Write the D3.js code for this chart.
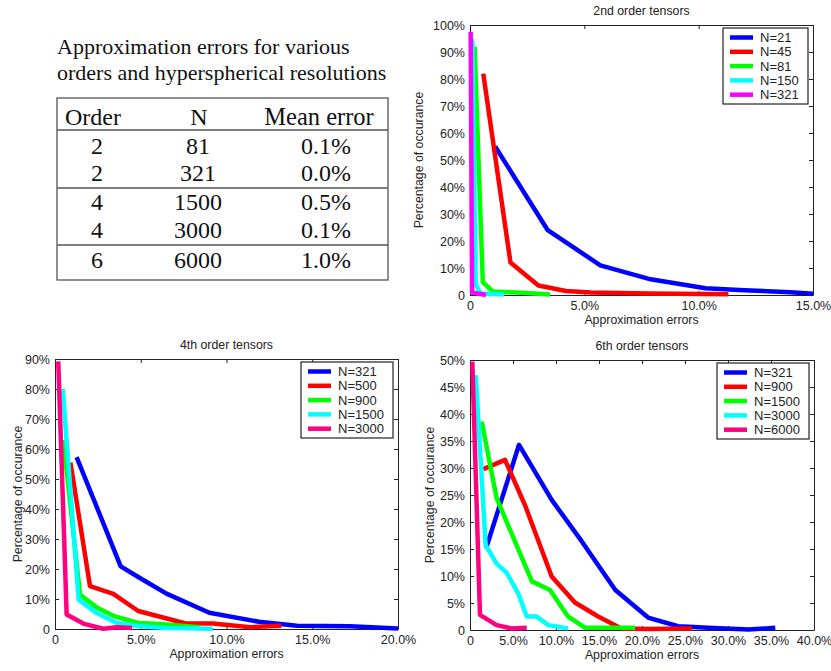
<!DOCTYPE html>
<html>
<head>
<meta charset="utf-8">
<script src="https://cdn.jsdelivr.net/npm/d3@7.9.0/dist/d3.min.js"></script>
<style>
  body { margin: 0; background: #fff; }
  svg { display: block; }
  .tbl text { font-family: "Liberation Serif", "Times New Roman", serif; fill: #111; }
  .chart text { font-family: "Liberation Sans", Arial, sans-serif; fill: #222; }
</style>
</head>
<body>
<svg width="831" height="671"></svg>
<script>
// ---- table data ----
const tableTitle = ['Approximation errors for various', 'orders and hyperspherical resolutions'];
const tableHeader = ['Order', 'N', 'Mean error'];
const tableOrder = ['2', '2', '4', '4', '6'];
const tableN = ['81', '321', '1500', '3000', '6000'];
const tableErr = ['0.1%', '0.0%', '0.5%', '0.1%', '1.0%'];

// ---- 2nd order tensors: [error %, occurrence %] ----
const o2Labels = ['N=21', 'N=45', 'N=81', 'N=150', 'N=321'];
const o2N21 = [[1.1, 55], [3.4, 24], [5.7, 11], [7.9, 5.8], [10.3, 2.5], [12, 1.8], [14, 1], [15, 0.5]];
const o2N45 = [[0.58, 82], [1.77, 12], [2.99, 3.5], [4.2, 1.5], [5.3, 0.9], [7.8, 0.6], [11.3, 0.3]];
const o2N81 = [[0.2, 92], [0.56, 4.8], [1.0, 1.3], [2.1, 0.9], [3.5, 0.2]];
const o2N150 = [[0.1, 94.7], [0.25, 4], [0.46, 0.6], [1.5, 0.2]];
const o2N321 = [[0.03, 97.5], [0.09, 0.9], [0.7, 0]];
const o2XTicks = [0, 5, 10, 15];
const o2XLabels = ['0', '5.0%', '10.0%', '15.0%'];
const o2YTicks = [0, 10, 20, 30, 40, 50, 60, 70, 80, 90, 100];
const o2YLabels = ['0', '10%', '20%', '30%', '40%', '50%', '60%', '70%', '80%', '90%', '100%'];

// ---- 4th order tensors ----
const o4Labels = ['N=321', 'N=500', 'N=900', 'N=1500', 'N=3000'];
const o4N321 = [[1.26, 57.3], [3.83, 20.9], [4.95, 17], [6.5, 11.8], [9.0, 5.4], [11.9, 2.4], [14.1, 1.1], [17.2, 0.9], [20, 0.2]];
const o4N500 = [[0.9, 55.5], [2.04, 14.3], [3.4, 11.7], [4.85, 6], [7.57, 1.9], [9.2, 1.8], [11.4, 0.6], [13.2, 1.1]];
const o4N900 = [[0.49, 63], [1.46, 11.4], [2.43, 7.2], [3.4, 4.4], [4.85, 2], [6.1, 1.7], [8.45, 0.6]];
const o4N1500 = [[0.45, 80], [1.38, 9.8], [2.43, 5.3], [3.6, 2], [4.95, 0.9], [6.5, 0.3], [9.2, 0.1]];
const o4N3000 = [[0.19, 89.2], [0.68, 4.8], [1.65, 1.8], [2.8, 0.1], [3.6, 0.6], [4.5, 0.3]];
const o4XTicks = [0, 5, 10, 15, 20];
const o4XLabels = ['0', '5.0%', '10.0%', '15.0%', '20.0%'];
const o4YTicks = [0, 10, 20, 30, 40, 50, 60, 70, 80, 90];
const o4YLabels = ['0', '10%', '20%', '30%', '40%', '50%', '60%', '70%', '80%', '90%'];

// ---- 6th order tensors ----
const o6Labels = ['N=321', 'N=900', 'N=1500', 'N=3000', 'N=6000'];
const o6N321 = [[1.86, 15.1], [5.7, 34.3], [9.5, 24.1], [13, 16.4], [16.9, 7.4], [20.7, 2.3], [24.2, 0.7], [27.7, 0.4], [32.4, 0.1], [35.5, 0.4]];
const o6N900 = [[1.55, 29.8], [4.07, 31.5], [6.4, 23.1], [9.5, 9.9], [12.2, 5.1], [14.9, 2.5], [17.6, 0.3], [20.7, 0.2], [25.8, 0.3]];
const o6N1500 = [[1.36, 38.6], [3.1, 24.4], [7.2, 9], [9.3, 7.4], [11.4, 2.5], [13.4, 0.4], [19.2, 0.4]];
const o6N3000 = [[0.66, 47.2], [1.82, 15.7], [3.1, 12.3], [4.26, 10.6], [5.6, 6.8], [6.6, 2.5], [7.75, 2.5], [9.1, 0.9], [11.4, 0.3]];
const o6N6000 = [[0.27, 49.7], [1.16, 2.8], [3.1, 0.9], [4.8, 0.3], [6.6, 0.4]];
const o6XTicks = [0, 5, 10, 15, 20, 25, 30, 35, 40];
const o6XLabels = ['0', '5.0%', '10.0%', '15.0%', '20.0%', '25.0%', '30.0%', '35.0%', '40.0%'];
const o6YTicks = [0, 5, 10, 15, 20, 25, 30, 35, 40, 45, 50];
const o6YLabels = ['0', '5%', '10%', '15%', '20%', '25%', '30%', '35%', '40%', '45%', '50%'];

const svg = d3.select('svg');

// ---------- table ----------
const tbl = svg.append('g').attr('class', 'tbl');
tableTitle.forEach((t, i) => {
  tbl.append('text').attr('x', 57).attr('y', 54 + i * 26).attr('font-size', 22).text(t);
});
const tbox = { x0: 57, x1: 388, y0: 98, y1: 280 };
tbl.append('rect')
  .attr('x', tbox.x0).attr('y', tbox.y0)
  .attr('width', tbox.x1 - tbox.x0).attr('height', tbox.y1 - tbox.y0)
  .attr('fill', 'none').attr('stroke', '#555').attr('stroke-width', 1.3);
[130, 188, 245].forEach(y => {
  tbl.append('line').attr('x1', tbox.x0).attr('x2', tbox.x1).attr('y1', y).attr('y2', y)
    .attr('stroke', '#555').attr('stroke-width', 1.3);
});
tbl.append('text').attr('x', 65).attr('y', 125).attr('font-size', 24).text(tableHeader[0]);
tbl.append('text').attr('x', 199).attr('y', 125).attr('font-size', 24).attr('text-anchor', 'middle').text(tableHeader[1]);
tbl.append('text').attr('x', 319).attr('y', 125).attr('font-size', 24.5).attr('text-anchor', 'middle').text(tableHeader[2]);
const rowY = [154, 181, 210, 238, 268];
tableOrder.forEach((d, i) => {
  tbl.append('text').attr('x', 97).attr('y', rowY[i]).attr('font-size', 24).attr('text-anchor', 'middle').text(d);
  tbl.append('text').attr('x', 198).attr('y', rowY[i]).attr('font-size', 24).attr('text-anchor', 'middle').text(tableN[i]);
  tbl.append('text').attr('x', 326).attr('y', rowY[i]).attr('font-size', 24).attr('text-anchor', 'middle').text(tableErr[i]);
});

// ---------- charts ----------
const colors = {
  blue: '#0000ff', red: '#ff0000', green: '#00ff00', cyan: '#00ffff', magenta: '#ff00ff', pink: '#ff0080'
};

function drawChart(cfg) {
  const g = svg.append('g').attr('class', 'chart');
  const p = cfg.plot;
  const x = d3.scaleLinear().domain(cfg.xDomain).range([p.x0, p.x1]);
  const y = d3.scaleLinear().domain(cfg.yDomain).range([p.y1, p.y0]);

  g.append('rect').attr('x', p.x0).attr('y', p.y0)
    .attr('width', p.x1 - p.x0).attr('height', p.y1 - p.y0).attr('fill', '#fff');

  const styleAxis = sel => {
    sel.selectAll('path.domain').attr('stroke', '#222');
    sel.selectAll('line').attr('stroke', '#222');
    sel.selectAll('text').attr('font-size', 12.5).attr('fill', '#222')
      .attr('font-family', '"Liberation Sans", Arial, sans-serif');
  };

  g.append('g').attr('transform', `translate(0,${p.y1})`)
    .call(d3.axisBottom(x).tickValues(cfg.xTicks).tickFormat((d, i) => cfg.xLabels[i])
      .tickSizeInner(-4).tickSizeOuter(0).tickPadding(6))
    .call(styleAxis);
  g.append('g').attr('transform', `translate(0,${p.y0})`)
    .call(d3.axisTop(x).tickValues(cfg.xTicks).tickFormat('').tickSizeInner(-4).tickSizeOuter(0))
    .call(styleAxis);
  g.append('g').attr('transform', `translate(${p.x0},0)`)
    .call(d3.axisLeft(y).tickValues(cfg.yTicks).tickFormat((d, i) => cfg.yLabels[i])
      .tickSizeInner(-4).tickSizeOuter(0).tickPadding(5))
    .call(styleAxis);
  g.append('g').attr('transform', `translate(${p.x1},0)`)
    .call(d3.axisRight(y).tickValues(cfg.yTicks).tickFormat('').tickSizeInner(-4).tickSizeOuter(0))
    .call(styleAxis);

  // series lines
  const line = d3.line().x(d => x(d[0])).y(d => y(d[1]));
  cfg.series.forEach((s, i) => {
    g.append('path').datum(s)
      .attr('d', line)
      .attr('fill', 'none')
      .attr('stroke', cfg.colors[i])
      .attr('stroke-width', 4.5)
      .attr('stroke-linejoin', 'round');
  });

  // titles
  const cx = (p.x0 + p.x1) / 2;
  g.append('text').attr('x', cx).attr('y', p.y0 - 10).attr('text-anchor', 'middle')
    .attr('font-size', 12.3).text(cfg.title);
  g.append('text').attr('x', cx).attr('y', p.y1 + 29).attr('text-anchor', 'middle')
    .attr('font-size', 12.3).text('Approximation errors');
  g.append('text').attr('transform', `translate(${cfg.yLabelX},${(p.y0 + p.y1) / 2}) rotate(-90)`)
    .attr('text-anchor', 'middle').attr('font-size', 12.3).text('Percentage of occurance');

  // legend
  const lw = cfg.legendW, lh = 76;
  const lx = p.x1 - 5 - lw, ly = p.y0 + 3;
  const lg = g.append('g').attr('transform', `translate(${lx},${ly})`);
  lg.append('rect').attr('width', lw).attr('height', lh)
    .attr('fill', '#fff').attr('stroke', '#222').attr('stroke-width', 1.2);
  cfg.labels.forEach((lab, i) => {
    const yy = 9.5 + i * 14.3;
    lg.append('line').attr('x1', 7).attr('x2', 30).attr('y1', yy).attr('y2', yy)
      .attr('stroke', cfg.colors[i]).attr('stroke-width', 4.5);
    lg.append('text').attr('x', 37).attr('y', yy).attr('dy', '0.36em')
      .attr('font-size', 13).text(lab);
  });
}

drawChart({
  title: '2nd order tensors',
  plot: { x0: 470, x1: 813, y0: 25, y1: 295 },
  xDomain: [0, 15], yDomain: [0, 100],
  xTicks: o2XTicks, xLabels: o2XLabels, yTicks: o2YTicks, yLabels: o2YLabels,
  series: [o2N21, o2N45, o2N81, o2N150, o2N321],
  labels: o2Labels,
  colors: [colors.blue, colors.red, colors.green, colors.cyan, colors.magenta],
  yLabelX: 423, legendW: 85
});

drawChart({
  title: '4th order tensors',
  plot: { x0: 55, x1: 398, y0: 359, y1: 629 },
  xDomain: [0, 20], yDomain: [0, 90],
  xTicks: o4XTicks, xLabels: o4XLabels, yTicks: o4YTicks, yLabels: o4YLabels,
  series: [o4N321, o4N500, o4N900, o4N1500, o4N3000],
  labels: o4Labels,
  colors: [colors.blue, colors.red, colors.green, colors.cyan, colors.pink],
  yLabelX: 22, legendW: 92
});

drawChart({
  title: '6th order tensors',
  plot: { x0: 470, x1: 814, y0: 360, y1: 630 },
  xDomain: [0, 40], yDomain: [0, 50],
  xTicks: o6XTicks, xLabels: o6XLabels, yTicks: o6YTicks, yLabels: o6YLabels,
  series: [o6N321, o6N900, o6N1500, o6N3000, o6N6000],
  labels: o6Labels,
  colors: [colors.blue, colors.red, colors.green, colors.cyan, colors.pink],
  yLabelX: 434, legendW: 92
});
</script>
</body>
</html>
